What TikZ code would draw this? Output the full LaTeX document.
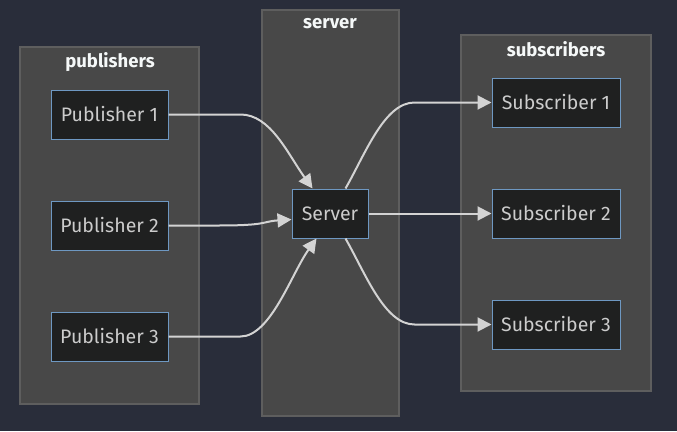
\documentclass[tikz,border=0pt]{standalone}
\usepackage{fontspec}
\setmainfont{Fira Sans}
\usetikzlibrary{arrows.meta}
\definecolor{bgc}{HTML}{292D3A}
\definecolor{clfill}{HTML}{484848}
\definecolor{clborder}{HTML}{5E5E5E}
\definecolor{ndfill}{HTML}{1F2020}
\definecolor{ndborder}{HTML}{6E98C2}
\definecolor{txt}{HTML}{CCCCCC}
\definecolor{ttl}{HTML}{F5F8F8}
\definecolor{edgec}{HTML}{D3D3D3}
\begin{document}
\begin{tikzpicture}[x=1pt,y=-1pt,
  cluster/.style={draw=clborder,fill=clfill,line width=1.2pt},
  ttlstyle/.style={text=ttl,font=\fontsize{18.5}{20}\selectfont\bfseries},
  box/.style={draw=ndborder,fill=ndfill,line width=1pt,text=txt,font=\fontsize{19.5}{21}\selectfont,minimum height=49pt,inner sep=0pt},
  conn/.style={draw=edgec,line width=2pt,-{Triangle[length=14pt,width=14pt]}}]
\fill[bgc] (0,0) rectangle (677,431);
\useasboundingbox (0,0) rectangle (677,431);
% clusters
\draw[cluster] (20,47) rectangle (199,404);
\draw[cluster] (262,10) rectangle (399,416);
\draw[cluster] (461,35) rectangle (651,391);
\node[ttlstyle] (tp) at (110,62) {publishers};
\node[ttlstyle] (ts) at (330,24) {server};
\node[ttlstyle] (tb) at (556,49) {subscribers};
% nodes
\node[box,minimum width=117pt] (p1) at (109.5,114.5) {Publisher 1};
\node[box,minimum width=117pt] (p2) at (109.5,225.5) {Publisher 2};
\node[box,minimum width=117pt] (p3) at (109.5,336.5) {Publisher 3};
\node[box,minimum width=76pt] (s) at (330,213.5) {Server};
\node[box,minimum width=128pt] (b1) at (556,102.5) {Subscriber 1};
\node[box,minimum width=128pt] (b2) at (556,213.5) {Subscriber 2};
\node[box,minimum width=128pt] (b3) at (556,324.5) {Subscriber 3};
% edges
\draw[conn] (p1.east) -- ++(72,0) .. controls +(30,0) and +(-25,-35) .. ([xshift=21pt]s.north west);
\draw[conn] (p2.east) -- ++(50,0) .. controls +(50,0) and +(-30,2) .. ([yshift=-6pt]s.west);
\draw[conn] (p3.east) -- ++(72,0) .. controls +(30,0) and +(-25,35) .. ([xshift=25pt]s.south west);
\draw[conn] ([xshift=-23pt]s.north east) .. controls +(20,-35) and +(-30,0) .. ([xshift=-77pt]b1.west) -- (b1.west);
\draw[conn] (s.east) -- (b2.west);
\draw[conn] ([xshift=-23pt]s.south east) .. controls +(20,35) and +(-30,0) .. ([xshift=-77pt]b3.west) -- (b3.west);
\end{tikzpicture}
\end{document}
